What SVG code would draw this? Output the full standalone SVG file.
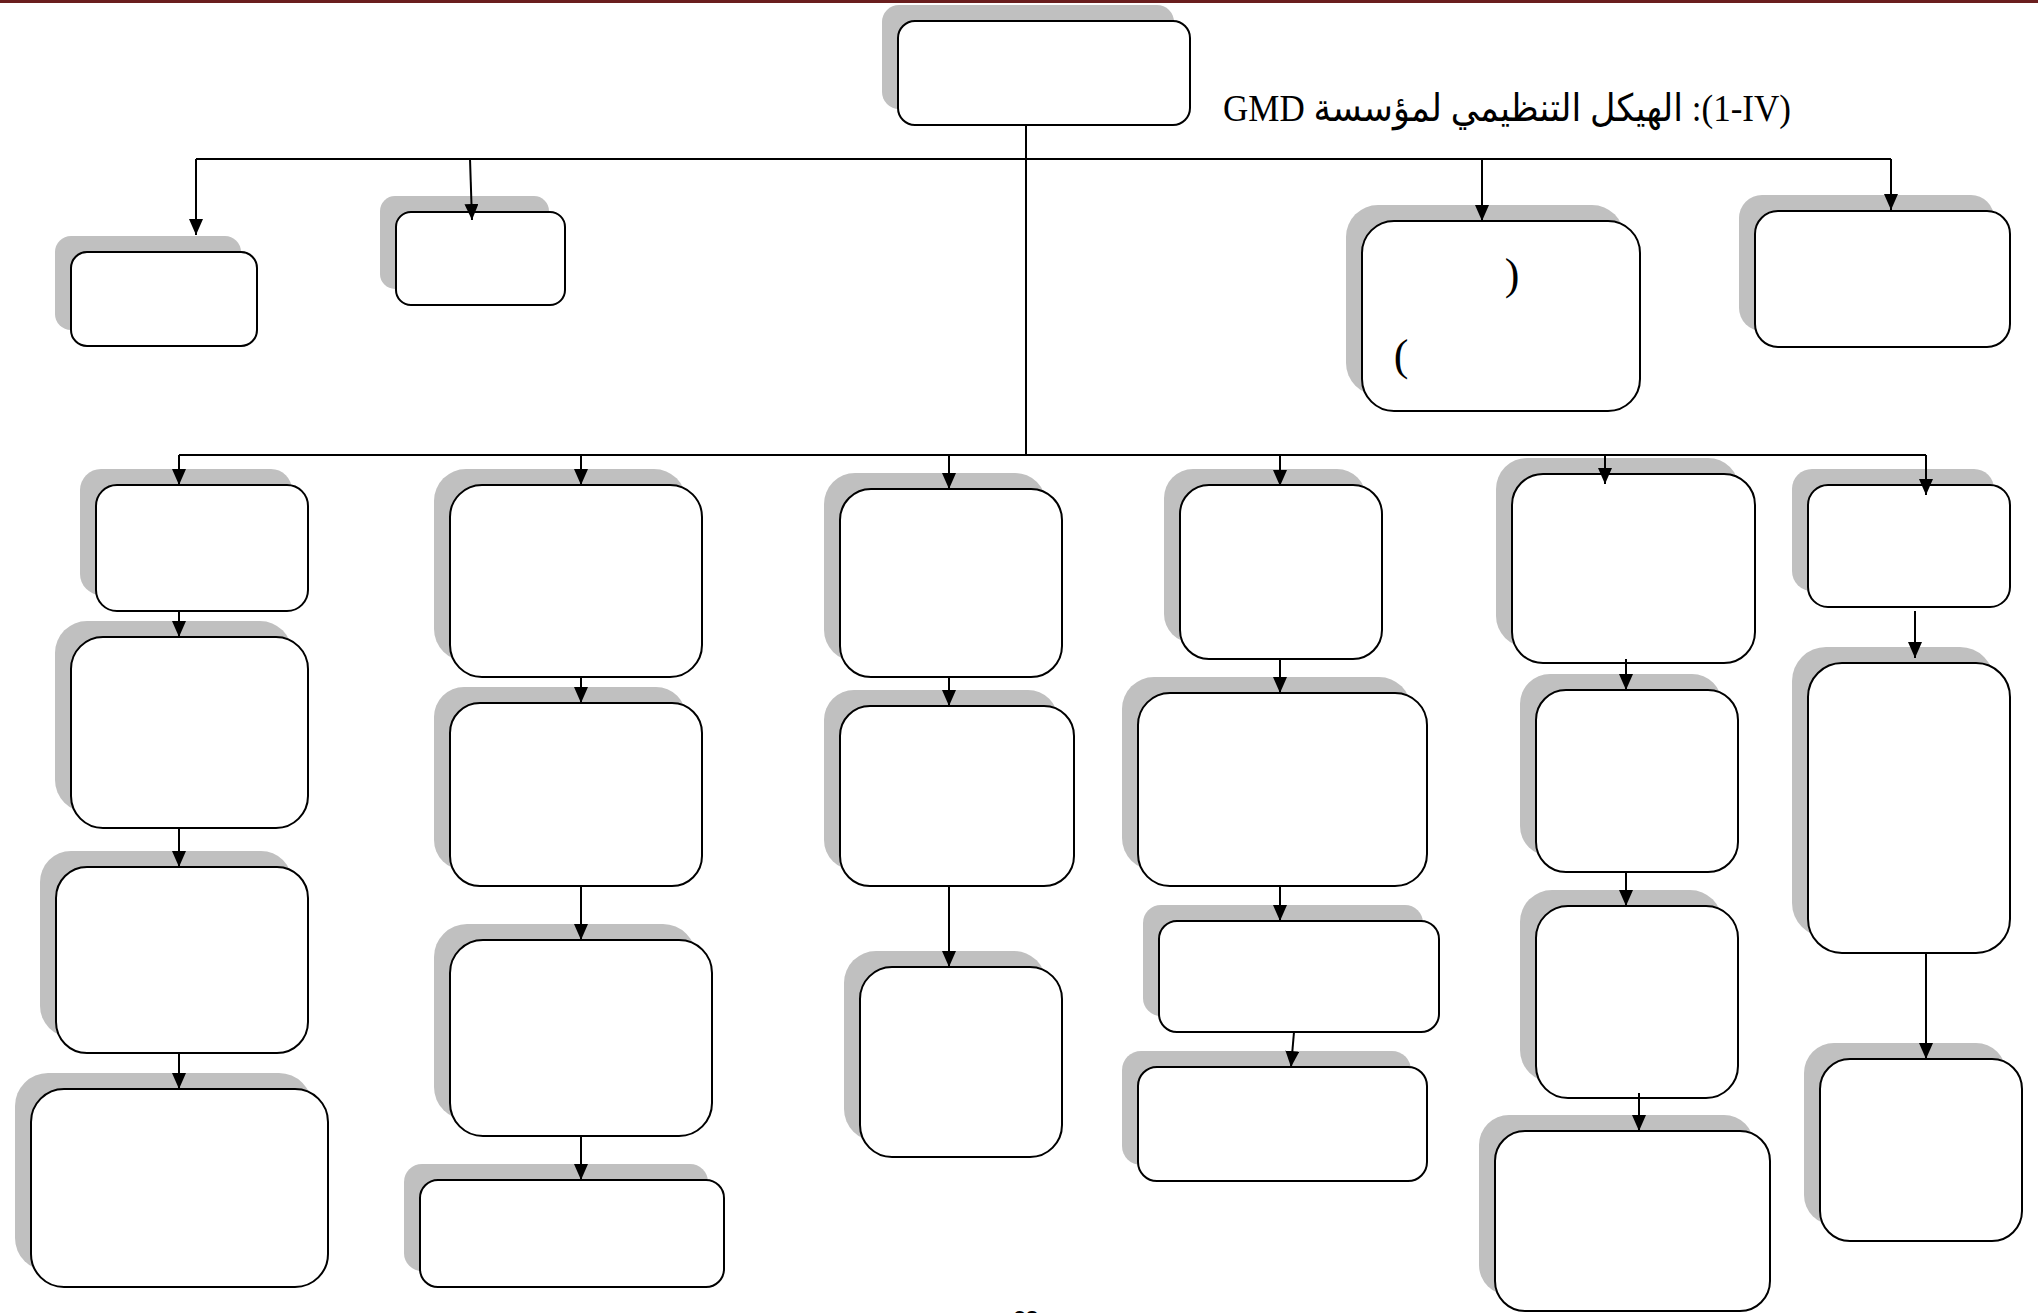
<svg xmlns="http://www.w3.org/2000/svg" width="2038" height="1313" viewBox="0 0 2038 1313">
<style>
.sh{fill:#c0c0c0;stroke:none}
.bx{fill:#ffffff;stroke:#000000;stroke-width:2}
.ln{fill:none;stroke:#000000;stroke-width:2}
.ar{fill:none;stroke:#000000;stroke-width:2;marker-end:url(#ah)}
.ttl{font-family:"Liberation Serif","DejaVu Sans",serif;font-size:38px;fill:#000}
.par{font-family:"Liberation Serif",serif;font-size:44px;fill:#000}
.pg{font-family:"Liberation Sans",sans-serif;font-size:22px;font-weight:bold;fill:#000}
</style>
<defs>
<marker id="ah" markerUnits="userSpaceOnUse" markerWidth="16" markerHeight="14" refX="16" refY="7" orient="auto" viewBox="0 0 16 14">
<path d="M0,0 L16,7 L0,14 z" fill="#000"/>
</marker>
</defs>
<rect x="0" y="0" width="2038" height="1313" fill="#ffffff"/>
<rect x="0" y="0" width="2038" height="3" fill="#6a1e1e"/>

<g id="n-top"><rect class="sh" x="882" y="5" width="292" height="104" rx="17"/><rect class="bx" x="898" y="21" width="292" height="104" rx="17"/></g>
<text class="ttl" x="1223" y="121" textLength="568" lengthAdjust="spacingAndGlyphs">GMD الهيكل التنظيمي لمؤسسة :(1-IV)</text>

<g id="n-t1"><rect class="sh" x="55" y="236" width="186" height="94" rx="16"/><rect class="bx" x="71" y="252" width="186" height="94" rx="16"/></g>
<g id="n-t2"><rect class="sh" x="380" y="196" width="169" height="93" rx="15"/><rect class="bx" x="396" y="212" width="169" height="93" rx="15"/></g>
<g id="n-t3"><rect class="sh" x="1346" y="205" width="278" height="190" rx="32"/><rect class="bx" x="1362" y="221" width="278" height="190" rx="32"/>
<text class="par" x="1512" y="289" text-anchor="middle">)</text><text class="par" x="1401" y="370" text-anchor="middle">(</text></g>
<g id="n-t4"><rect class="sh" x="1739" y="195" width="255" height="136" rx="23"/><rect class="bx" x="1755" y="211" width="255" height="136" rx="23"/></g>

<g id="n-c1a"><rect class="sh" x="80" y="469" width="212" height="126" rx="21"/><rect class="bx" x="96" y="485" width="212" height="126" rx="21"/></g>
<g id="n-c1b"><rect class="sh" x="55" y="621" width="237" height="191" rx="32"/><rect class="bx" x="71" y="637" width="237" height="191" rx="32"/></g>
<g id="n-c1c"><rect class="sh" x="40" y="851" width="252" height="186" rx="31"/><rect class="bx" x="56" y="867" width="252" height="186" rx="31"/></g>
<g id="n-c1d"><rect class="sh" x="15" y="1073" width="297" height="198" rx="33"/><rect class="bx" x="31" y="1089" width="297" height="198" rx="33"/></g>

<g id="n-c2a"><rect class="sh" x="434" y="469" width="252" height="192" rx="32"/><rect class="bx" x="450" y="485" width="252" height="192" rx="32"/></g>
<g id="n-c2b"><rect class="sh" x="434" y="687" width="252" height="183" rx="30"/><rect class="bx" x="450" y="703" width="252" height="183" rx="30"/></g>
<g id="n-c2c"><rect class="sh" x="434" y="924" width="262" height="196" rx="33"/><rect class="bx" x="450" y="940" width="262" height="196" rx="33"/></g>
<g id="n-c2d"><rect class="sh" x="404" y="1164" width="304" height="107" rx="18"/><rect class="bx" x="420" y="1180" width="304" height="107" rx="18"/></g>

<g id="n-c3a"><rect class="sh" x="824" y="473" width="222" height="188" rx="31"/><rect class="bx" x="840" y="489" width="222" height="188" rx="31"/></g>
<g id="n-c3b"><rect class="sh" x="824" y="690" width="234" height="180" rx="30"/><rect class="bx" x="840" y="706" width="234" height="180" rx="30"/></g>
<g id="n-c3c"><rect class="sh" x="844" y="951" width="202" height="190" rx="32"/><rect class="bx" x="860" y="967" width="202" height="190" rx="32"/></g>

<g id="n-c4a"><rect class="sh" x="1164" y="469" width="202" height="174" rx="29"/><rect class="bx" x="1180" y="485" width="202" height="174" rx="29"/></g>
<g id="n-c4b"><rect class="sh" x="1122" y="677" width="289" height="193" rx="32"/><rect class="bx" x="1138" y="693" width="289" height="193" rx="32"/></g>
<g id="n-c4c"><rect class="sh" x="1143" y="905" width="280" height="111" rx="18"/><rect class="bx" x="1159" y="921" width="280" height="111" rx="18"/></g>
<g id="n-c4d"><rect class="sh" x="1122" y="1051" width="289" height="114" rx="19"/><rect class="bx" x="1138" y="1067" width="289" height="114" rx="19"/></g>

<g id="n-c5a"><rect class="sh" x="1496" y="458" width="243" height="189" rx="31"/><rect class="bx" x="1512" y="474" width="243" height="189" rx="31"/></g>
<g id="n-c5b"><rect class="sh" x="1520" y="674" width="202" height="182" rx="30"/><rect class="bx" x="1536" y="690" width="202" height="182" rx="30"/></g>
<g id="n-c5c"><rect class="sh" x="1520" y="890" width="202" height="192" rx="32"/><rect class="bx" x="1536" y="906" width="202" height="192" rx="32"/></g>
<g id="n-c5d"><rect class="sh" x="1479" y="1115" width="275" height="180" rx="30"/><rect class="bx" x="1495" y="1131" width="275" height="180" rx="30"/></g>

<g id="n-c6a"><rect class="sh" x="1792" y="469" width="202" height="122" rx="20"/><rect class="bx" x="1808" y="485" width="202" height="122" rx="20"/></g>
<g id="n-c6b"><rect class="sh" x="1792" y="647" width="202" height="290" rx="34"/><rect class="bx" x="1808" y="663" width="202" height="290" rx="34"/></g>
<g id="n-c6c"><rect class="sh" x="1804" y="1043" width="202" height="182" rx="30"/><rect class="bx" x="1820" y="1059" width="202" height="182" rx="30"/></g>

<g id="connectors">
<path class="ln" d="M1026,125 V455"/>
<path class="ln" d="M196,159 H1891"/>
<path class="ar" d="M196,159 V235"/>
<path class="ar" d="M470,159 L472,220"/>
<path class="ar" d="M1482,159 V221"/>
<path class="ar" d="M1891,159 V210"/>
<path class="ln" d="M179,455 H1926"/>
<path class="ar" d="M179,455 V485"/>
<path class="ar" d="M581,455 V485"/>
<path class="ar" d="M949,455 V489"/>
<path class="ar" d="M1280,455 V486"/>
<path class="ar" d="M1605,455 V484"/>
<path class="ar" d="M1926,455 V495"/>
<path class="ar" d="M179,611 V637"/>
<path class="ar" d="M179,828 V867"/>
<path class="ar" d="M179,1053 V1089"/>
<path class="ar" d="M581,677 V703"/>
<path class="ar" d="M581,886 V940"/>
<path class="ar" d="M581,1136 V1180"/>
<path class="ar" d="M949,677 V706"/>
<path class="ar" d="M949,886 V967"/>
<path class="ar" d="M1280,659 V693"/>
<path class="ar" d="M1280,886 V921"/>
<path class="ar" d="M1294,1032 L1291,1067"/>
<path class="ar" d="M1626,659 V690"/>
<path class="ar" d="M1626,872 V906"/>
<path class="ar" d="M1639,1093 V1131"/>
<path class="ar" d="M1915,611 V658"/>
<path class="ar" d="M1926,953 V1059"/>
</g>
<text class="pg" x="1026" y="1326" text-anchor="middle">93</text>
</svg>
